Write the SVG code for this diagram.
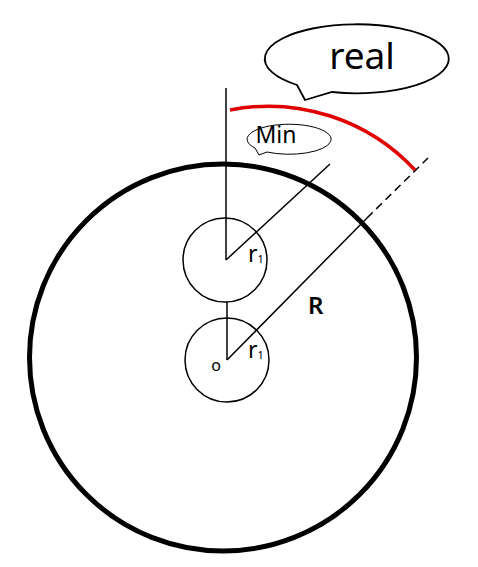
<svg xmlns="http://www.w3.org/2000/svg" width="478" height="567" viewBox="0 0 478 567">
<style>
.thin{fill:none;stroke:#000;stroke-width:1.5}
.lbl{font-family:"Noto Sans","Liberation Sans",sans-serif;fill:#000}
</style>
<rect width="478" height="567" fill="#fff"/>
<g id="outer-circle"><circle cx="223" cy="357.5" r="193.5" fill="none" stroke="#000" stroke-width="5"/></g>
<g id="upper-circle"><circle cx="225" cy="260" r="42" class="thin"/></g>
<g id="lower-circle"><circle cx="227" cy="360" r="42" class="thin"/></g>
<g id="connectors">
<line x1="226" y1="88" x2="226" y2="260" class="thin"/>
<line x1="227" y1="302" x2="227" y2="360" class="thin"/>
<line x1="226" y1="260" x2="330" y2="164" class="thin"/>
<line x1="227" y1="360" x2="367" y2="218" class="thin"/>
<line x1="367" y1="218" x2="428" y2="158" class="thin" stroke-dasharray="8,5"/>
<path d="M230,110 A200,200 0 0 1 415,170" fill="none" stroke="#e00000" stroke-width="3.5"/>
</g>
<g id="real-bubble">
<path d="M297,85 A92,34.5 0 1 1 332,92 L305,100 Z" fill="#fff" stroke="#000" stroke-width="1.8" stroke-linejoin="miter"/>
<text x="362" y="69" class="lbl" font-size="37" text-anchor="middle">real</text>
</g>
<g id="min-bubble">
<path d="M255,148 A42,15 0 1 1 267,152 L259,155 Z" fill="#fff" stroke="#000" stroke-width="1"/>
<text x="276" y="143" class="lbl" font-size="23" text-anchor="middle">Min</text>
</g>
<g id="labels">
<text x="248" y="262" class="lbl" font-size="23">r<tspan font-size="11" dy="1">1</tspan></text>
<text x="248" y="358" class="lbl" font-size="23">r<tspan font-size="11" dy="1">1</tspan></text>
<text x="216" y="371" class="lbl" font-size="16" text-anchor="middle">o</text>
<text x="308" y="314" class="lbl" font-size="24" font-weight="600">R</text>
</g>
</svg>
